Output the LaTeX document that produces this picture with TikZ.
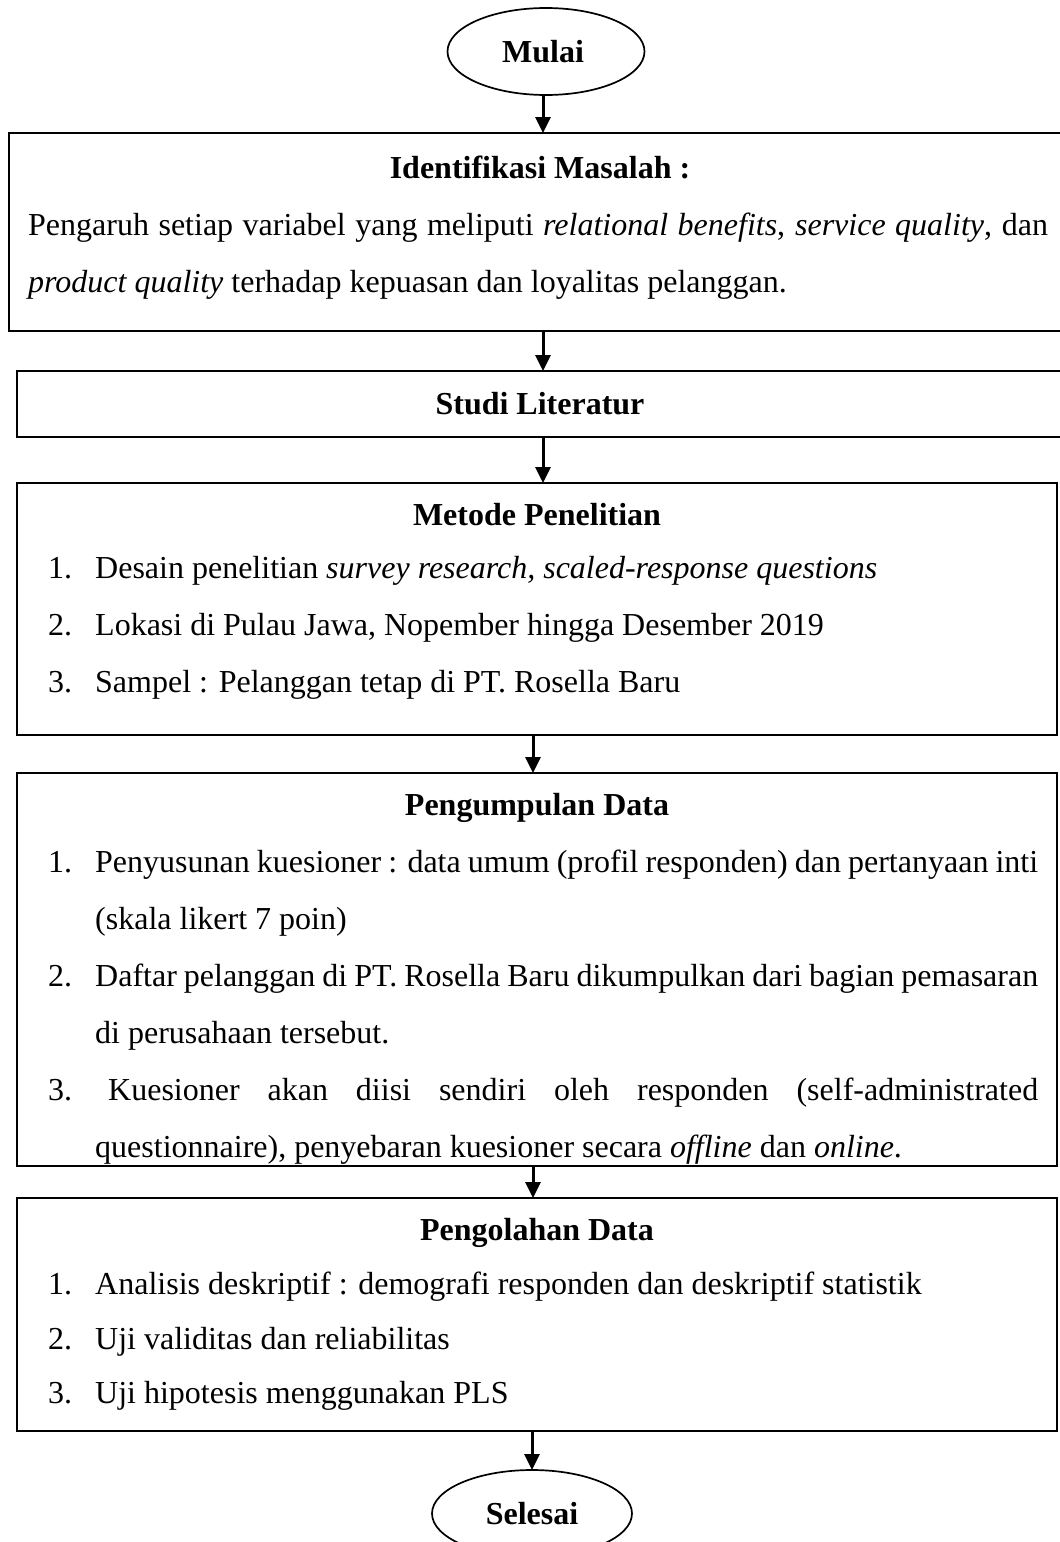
\documentclass[tikz,border=0pt]{standalone}
\usepackage{fontspec}
\setmainfont{Liberation Serif}
\usetikzlibrary{shapes.geometric,arrows.meta}

\begin{document}
\begin{tikzpicture}[x=1pt,y=-1pt,
  box/.style={draw, line width=1.7pt, inner sep=0pt, outer sep=0pt, anchor=north west},
  oval/.style={draw, ellipse, line width=1.7pt, inner sep=0pt, outer sep=0pt},
  flow/.style={line width=3pt, -{Triangle[length=16pt,width=15pt]}},
  ttl/.style={font=\fontsize{32}{38}\selectfont\bfseries, anchor=base, inner sep=0pt},
  txt/.style={font=\fontsize{32}{38}\selectfont, anchor=base west, inner sep=0pt},
]
\useasboundingbox (0,0) rectangle (1060,1542);
\clip (0,0) rectangle (1060,1542);
\fill[white] (0,0) rectangle (1060,1542);

% terminals
\node[oval, minimum width=197pt, minimum height=87pt] (start) at (546,51.5) {};
\node[ttl] (startlbl) at (543,62) {Mulai};
\node[oval, minimum width=200pt, minimum height=87pt] (stop) at (532,1513.5) {};
\node[ttl] (stoplbl) at (532,1524) {Selesai};

% process boxes
\node[box, minimum width=1062pt, minimum height=198pt] (b1) at (9,133) {};
\node[box, minimum width=1050pt, minimum height=66pt]  (b2) at (17,371) {};
\node[box, minimum width=1040pt, minimum height=252pt] (b3) at (17,483) {};
\node[box, minimum width=1040pt, minimum height=393pt] (b4) at (17,773) {};
\node[box, minimum width=1040pt, minimum height=233pt] (b5) at (17,1198) {};

% box 1: problem identification
\node[ttl] (t1) at (540,178) {Identifikasi Masalah :};
\node[txt] (t1a) at (28,235) {\makebox[1020pt][s]{Pengaruh setiap variabel yang meliputi \textit{relational benefits}, \textit{service quality}, dan}};
\node[txt] (t1b) at (28,292) {\textit{product quality} terhadap kepuasan dan loyalitas pelanggan.};

% box 2: literature
\node[ttl] (t2) at (540,414) {Studi Literatur};

% box 3: method
\node[ttl] (t3) at (537,525) {Metode Penelitian};
\node[txt] (n31) at (48,578) {1.};
\node[txt] (t31) at (95,578) {Desain penelitian \textit{survey research, scaled-response questions}};
\node[txt] (n32) at (48,635) {2.};
\node[txt] (t32) at (95,635) {Lokasi di Pulau Jawa, Nopember hingga Desember 2019};
\node[txt] (n33) at (48,692) {3.};
\node[txt] (t33) at (95,692) {Sampel : Pelanggan tetap di PT. Rosella Baru};

% box 4: data collection
\node[ttl] (t4) at (537,815) {Pengumpulan Data};
\node[txt] (n41) at (48,872) {1.};
\node[txt] (t41a) at (95,872) {\makebox[943pt][s]{Penyusunan kuesioner : data umum (profil responden) dan pertanyaan inti}};
\node[txt] (t41b) at (95,929) {(skala likert 7 poin)};
\node[txt] (n42) at (48,986) {2.};
\node[txt] (t42a) at (95,986) {\makebox[943pt][s]{Daftar pelanggan di PT. Rosella Baru dikumpulkan dari bagian pemasaran}};
\node[txt] (t42b) at (95,1043) {di perusahaan tersebut.};
\node[txt] (n43) at (48,1100) {3.};
\node[txt] (t43a) at (108,1100) {\makebox[930pt][s]{Kuesioner akan diisi sendiri oleh responden (self-administrated}};
\node[txt] (t43b) at (95,1157) {questionnaire), penyebaran kuesioner secara \textit{offline} dan \textit{online}.};

% box 5: data processing
\node[ttl] (t5) at (537,1240) {Pengolahan Data};
\node[txt] (n51) at (48,1294) {1.};
\node[txt] (t51) at (95,1294) {Analisis deskriptif : demografi responden dan deskriptif statistik};
\node[txt] (n52) at (48,1349) {2.};
\node[txt] (t52) at (95,1349) {Uji validitas dan reliabilitas};
\node[txt] (n53) at (48,1403) {3.};
\node[txt] (t53) at (95,1403) {Uji hipotesis menggunakan PLS};

% connectors
\coordinate (ca) at (543,0);
\coordinate (cb) at (533,0);
\draw[flow] (start.south -| ca) -- (ca |- b1.north);
\draw[flow] (ca |- b1.south) -- (ca |- b2.north);
\draw[flow] (ca |- b2.south) -- (ca |- b3.north);
\draw[flow] (cb |- b3.south) -- (cb |- b4.north);
\draw[flow] (cb |- b4.south) -- (cb |- b5.north);
\draw[flow] (stop.north |- b5.south) -- (stop.north);
\end{tikzpicture}
\end{document}
